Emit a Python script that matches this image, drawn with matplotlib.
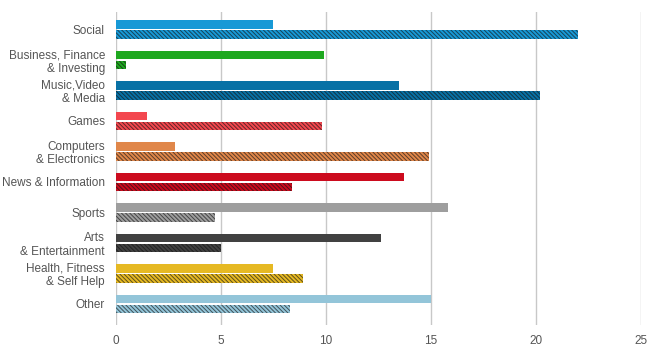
import numpy as np
import matplotlib
matplotlib.use("Agg")
import matplotlib.pyplot as plt

plt.rcParams['font.family'] = ['Liberation Sans', 'DejaVu Sans']
plt.rcParams['hatch.linewidth'] = 0.7

# Categories and values
categories = ['Social', 'Business, Finance\n& Investing', 'Music,Video\n& Media', 'Games',
              'Computers\n& Electronics', 'News & Information', 'Sports',
              'Arts\n& Entertainment', 'Health, Fitness\n& Self Help', 'Other']
solid_values = [7.5, 9.9, 13.5, 1.5, 2.8, 13.7, 15.8, 12.6, 7.5, 15.0]
hatched_values = [22.0, 0.5, 20.2, 9.8, 14.9, 8.4, 4.7, 5.0, 8.9, 8.3]
colors = ['#1899d6', '#1ea81f', '#0871a5', '#f3474f', '#e0874a', '#cc0b1e',
          '#9e9e9e', '#414141', '#e6b923', '#93c5d9']
xticks = [0, 5, 10, 15, 20, 25]

fig = plt.figure(figsize=(6.48, 3.47), dpi=100)
ax = fig.add_axes([0.179, 0.0634, 0.81, 0.902])

y = np.arange(len(categories))
h = 0.29
ax.barh(y - 0.165, solid_values, height=h, color=colors, edgecolor='none', zorder=3)
# fine diagonal stripes, about 4 px apart
ax.barh(y + 0.165, hatched_values, height=h, color=colors, edgecolor=(0.08, 0.08, 0.08, 0.65),
        linewidth=0, hatch='\\' * 8, zorder=3)

ax.set_xlim(0, 25)
ax.set_ylim(9.69, -0.574)
ax.set_xticks(xticks)
ax.set_yticks(y)
ax.set_yticklabels(categories, linespacing=1.15)
ax.tick_params(axis='both', length=0, labelsize=8.5, labelcolor='#555555')
ax.tick_params(axis='y', pad=8)
ax.tick_params(axis='x', pad=7)
ax.grid(axis='x', color='#c8c8c8', linewidth=1, zorder=0)
for s in ax.spines.values():
    s.set_visible(False)

fig.savefig('out.png', dpi=100)
